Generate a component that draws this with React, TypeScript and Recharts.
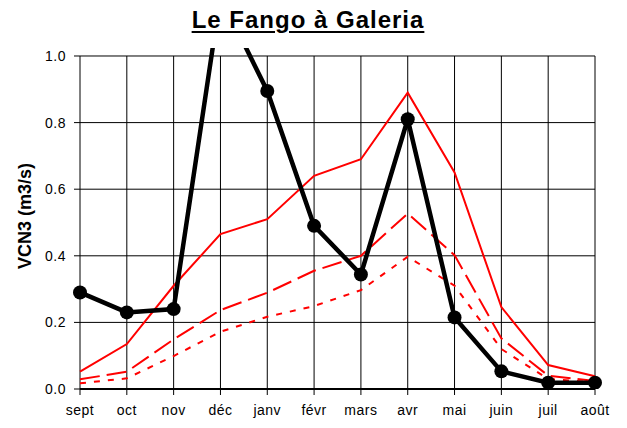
import React from 'react';
import { LineChart, Line, XAxis, YAxis, ReferenceLine } from 'recharts';

const months = ['sept', 'oct', 'nov', 'déc', 'janv', 'févr', 'mars', 'avr', 'mai', 'juin', 'juil', 'août'];
const observed = [0.29, 0.23, 0.24, 1.18, 0.895, 0.49, 0.344, 0.81, 0.215, 0.053, 0.019, 0.019];
const redSolid = [0.052, 0.135, 0.31, 0.465, 0.51, 0.64, 0.69, 0.89, 0.65, 0.246, 0.072, 0.038];
const redDashed = [0.029, 0.052, 0.149, 0.237, 0.289, 0.355, 0.4, 0.527, 0.402, 0.152, 0.04, 0.024];
const redDotted = [0.017, 0.032, 0.099, 0.172, 0.217, 0.249, 0.297, 0.397, 0.31, 0.12, 0.03, 0.02];
const yTicks = [0, 0.2, 0.4, 0.6, 0.8, 1.0];

const data = months.map((m, i) => ({
  month: m,
  observed: observed[i],
  solid: redSolid[i],
  dashed: redDashed[i],
  dotted: redDotted[i],
}));

const FONT = '"Liberation Sans", Arial, sans-serif';

export default function App() {
  return (
    <div style={{ position: 'absolute', left: 0, top: 0, width: 627, height: 428, background: '#fff' }}>
      <div
        style={{
          position: 'absolute',
          left: 0,
          width: 616,
          top: 6,
          textAlign: 'center',
          fontFamily: FONT,
          fontWeight: 'bold',
          fontSize: 24,
          letterSpacing: 1,
          textDecoration: 'underline',
          textDecorationThickness: 2,
          textUnderlineOffset: 3,
          color: '#000',
          lineHeight: '28px',
        }}
      >
        Le Fango à Galeria
      </div>
      <div style={{ position: 'absolute', left: 0, top: 0 }}>
        <LineChart width={627} height={428} data={data} margin={{ top: 48, right: 32, bottom: 9, left: 0 }}>
          {yTicks.map((t) => (
            <ReferenceLine key={'h' + t} y={t} stroke="#000" strokeWidth={1} />
          ))}
          {months.map((m) => (
            <ReferenceLine
              key={m}
              segment={[{ x: m, y: 0 }, { x: m, y: 1 }]}
              stroke="#000"
              strokeWidth={1}
            />
          ))}
          <XAxis
            dataKey="month"
            height={30}
            axisLine={{ stroke: '#000', strokeWidth: 2 }}
            tickLine={{ stroke: '#000' }}
            tickSize={6}
            tickMargin={10}
            tick={{ fill: '#000', fontSize: 14, fontFamily: FONT, letterSpacing: 0.5 }}
            interval={0}
          />
          <YAxis
            width={80}
            domain={[0, 1.024]}
            allowDataOverflow
            ticks={yTicks}
            tickFormatter={(v: number) => v.toFixed(1)}
            axisLine={false}
            tickLine={{ stroke: '#000' }}
            tickSize={6}
            tickMargin={8}
            tick={{ fill: '#000', fontSize: 14, fontFamily: FONT, letterSpacing: 0.5 }}
            label={{
              content: () => (
                <text
                  x={25}
                  y={216}
                  transform="rotate(-90 25 216)"
                  textAnchor="middle"
                  dominantBaseline="central"
                  fontFamily={FONT}
                  fontWeight="bold"
                  fontSize={18}
                  fill="#000"
                >
                  VCN3 (m3/s)
                </text>
              ),
            }}
          />
          <Line dataKey="dotted" stroke="#ff0000" strokeWidth={2} strokeDasharray="6 8" dot={false} isAnimationActive={false} />
          <Line dataKey="dashed" stroke="#ff0000" strokeWidth={2} strokeDasharray="20 7" dot={false} isAnimationActive={false} />
          <Line dataKey="solid" stroke="#ff0000" strokeWidth={2} dot={false} isAnimationActive={false} />
          <Line
            dataKey="observed"
            stroke="#000"
            strokeWidth={4.5}
            dot={{ r: 7, fill: '#000', stroke: '#000', strokeWidth: 0 }}
            isAnimationActive={false}
          />
        </LineChart>
      </div>
    </div>
  );
}
